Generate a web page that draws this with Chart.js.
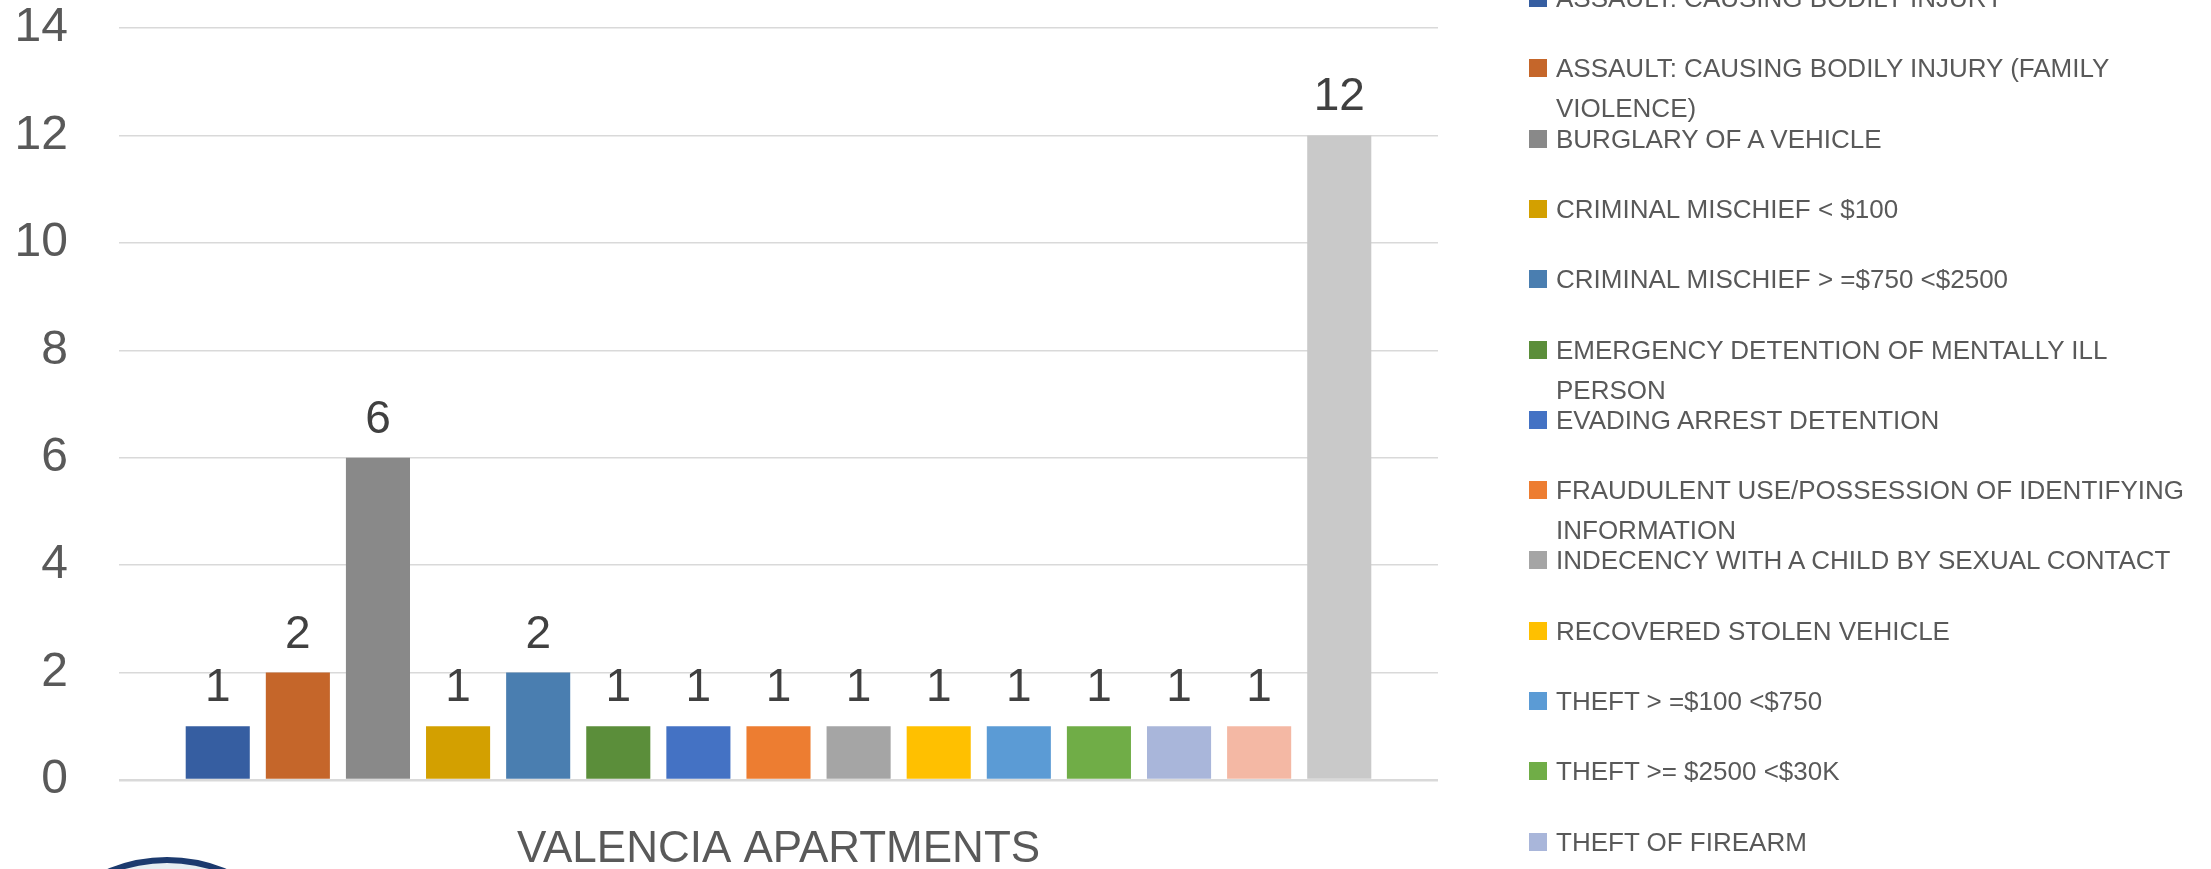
<!DOCTYPE html>
<html>
<head>
<meta charset="utf-8">
<script src="https://cdn.jsdelivr.net/npm/chart.js@4/dist/chart.umd.min.js"></script>
<style>
  html, body { margin: 0; padding: 0; background: #ffffff; width: 2211px; height: 869px; overflow: hidden; }
  #wrap { position: absolute; left: 0; top: 0; width: 1460px; height: 869px; }
  #legend { position: absolute; left: 0; top: 0; width: 2211px; height: 869px; pointer-events: none; }
  .item { position: absolute; left: 1529px; width: 680px; font-family: "Liberation Sans", Arial, sans-serif; font-size: 26px; line-height: 40px; color: #595959; }
  .sw { position: absolute; left: 0; top: 11px; width: 18px; height: 18px; }
  .tx { position: absolute; left: 27px; top: 0; width: 650px; white-space: normal; }
  #logo { position: absolute; left: 11px; top: 857px; width: 300px; height: 300px; border-radius: 50%; border: 6px solid #1c3a6e; background: #e6eef2; }
</style>
</head>
<body>
<div id="wrap"><canvas id="c" width="1460" height="869"></canvas></div>
<div id="legend"></div>
<div id="logo"></div>
<script>
const categories = ["VALENCIA APARTMENTS"];
const offenses = [
  "ASSAULT: CAUSING BODILY INJURY",
  "ASSAULT: CAUSING BODILY INJURY (FAMILY VIOLENCE)",
  "BURGLARY OF A VEHICLE",
  "CRIMINAL MISCHIEF < $100",
  "CRIMINAL MISCHIEF > =$750 <$2500",
  "EMERGENCY DETENTION OF MENTALLY ILL PERSON",
  "EVADING ARREST DETENTION",
  "FRAUDULENT USE/POSSESSION OF IDENTIFYING INFORMATION",
  "INDECENCY WITH A CHILD BY SEXUAL CONTACT",
  "RECOVERED STOLEN VEHICLE",
  "THEFT > =$100 <$750",
  "THEFT >= $2500 <$30K",
  "THEFT OF FIREARM",
  "THEFT OF PROPERTY",
  "OTHER"
];
const counts = [1, 2, 6, 1, 2, 1, 1, 1, 1, 1, 1, 1, 1, 1, 12];
const colors = [
  "#365EA1", "#C5662A", "#898989", "#D3A000", "#4A7EB0",
  "#5B8E3A", "#4472C4", "#ED7D31", "#A5A5A5", "#FFC000",
  "#5B9BD5", "#70AD47", "#A9B6DA", "#F4B8A4", "#C9C9C9"
];
const yTicks = [0, 2, 4, 6, 8, 10, 12, 14];

const datasets = offenses.map((name, i) => ({
  label: name,
  data: [counts[i]],
  backgroundColor: colors[i],
  borderWidth: 0,
  categoryPercentage: 0.911,
  barPercentage: 0.8
}));

const valueLabels = {
  id: 'valueLabels',
  afterDatasetsDraw(chart) {
    const ctx = chart.ctx;
    ctx.save();
    ctx.font = '46px "Liberation Sans", Arial, sans-serif';
    ctx.fillStyle = '#404040';
    ctx.textAlign = 'center';
    ctx.textBaseline = 'alphabetic';
    chart.data.datasets.forEach((ds, i) => {
      const meta = chart.getDatasetMeta(i);
      meta.data.forEach((el, j) => {
        ctx.fillText(String(ds.data[j]), el.x, el.y - 25);
      });
    });
    ctx.restore();
  }
};

new Chart(document.getElementById('c'), {
  type: 'bar',
  data: { labels: categories, datasets: datasets },
  plugins: [valueLabels],
  options: {
    responsive: false,
    animation: false,
    layout: { padding: { left: 0, top: 28, right: 22, bottom: 0 } },
    plugins: { legend: { display: false }, tooltip: { enabled: false } },
    scales: {
      x: {
        grid: { display: false, drawTicks: false },
        border: { display: false },
        ticks: { color: '#595959', padding: 43, font: { family: '"Liberation Sans", Arial, sans-serif', size: 44 } },
        afterFit(scale) { scale.height = 89; scale.paddingLeft = 0; scale.paddingRight = 0; }
      },
      y: {
        min: 0, max: 14,
        afterBuildTicks(scale) { scale.ticks = yTicks.map(v => ({ value: v })); },
        grid: {
          color: '#d9d9d9',
          lineWidth: (c) => (c.tick && c.tick.value === 0 ? 2.5 : 1.5),
          drawTicks: false
        },
        border: { display: false },
        ticks: { color: '#595959', padding: 51, font: { family: '"Liberation Sans", Arial, sans-serif', size: 48, lineHeight: 1 } },
        afterFit(scale) { scale.width = 119; scale.paddingTop = 0; scale.paddingBottom = 0; }
      }
    }
  }
});

// Legend (HTML), one entry per series
const legend = document.getElementById('legend');
offenses.forEach((name, i) => {
  const center = -2 + i * 70.3;
  const d = document.createElement('div');
  d.className = 'item';
  d.style.top = (center - 20) + 'px';
  const sw = document.createElement('span');
  sw.className = 'sw';
  sw.style.background = colors[i];
  const tx = document.createElement('span');
  tx.className = 'tx';
  tx.textContent = name;
  d.appendChild(sw);
  d.appendChild(tx);
  legend.appendChild(d);
});
</script>
</body>
</html>
